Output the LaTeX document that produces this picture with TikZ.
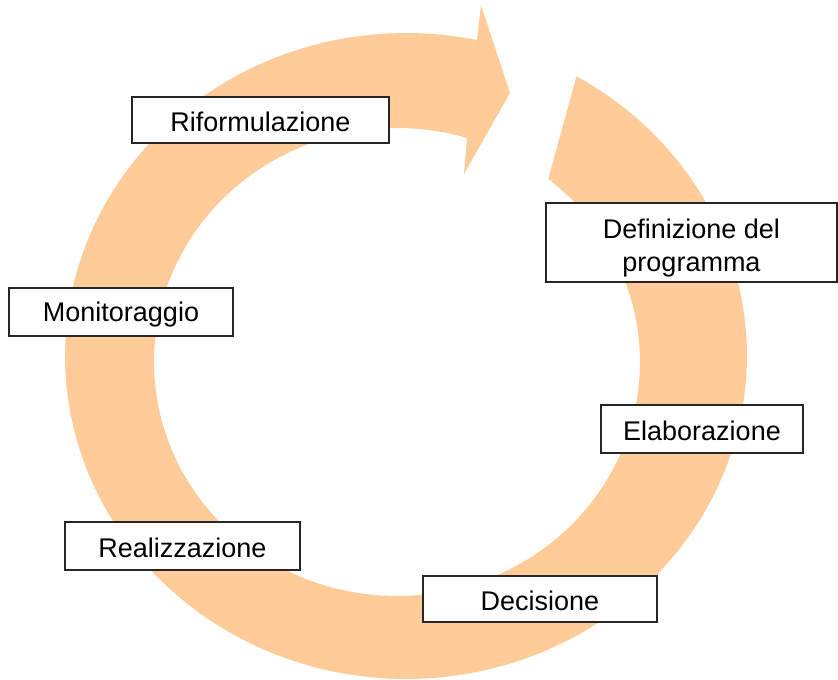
\documentclass[tikz,border=0pt]{standalone}
\usepackage{fontspec}
\setmainfont{Liberation Sans}
\definecolor{peach}{RGB}{255,204,153}
\tikzset{
  stagebox/.style={draw=black!85, line width=1.5pt, fill=white, rectangle, inner sep=0pt,
    align=center, font=\fontsize{27}{33}\selectfont},
  oneline/.style={text height=24pt},
}
\begin{document}
\begin{tikzpicture}[x=1pt,y=-1pt]
\useasboundingbox (0,0) rectangle (838,680);
% circular arrow
\fill[peach]
  plot[domain=60:-282, samples=180] ({406+341*cos(\x)}, {356-323*sin(\x)})
  -- (481,5) -- (510,93) -- (464,174) -- (467,138)
  -- plot[domain=-286.7:51.5, samples=180] ({397+243*cos(\x)}, {362-234*sin(\x)})
  -- cycle;
% stage boxes
\node[stagebox, oneline, minimum width=257pt, minimum height=46pt] (rif) at (260.5,120) {Riformulazione};
\node[stagebox, oneline, minimum width=224pt, minimum height=48pt] (mon) at (121,312) {Monitoraggio};
\node[stagebox, text height=63pt, minimum width=291pt, minimum height=79pt] (def) at (691.5,242.5) {Definizione del\\programma};
\node[stagebox, oneline, minimum width=202pt, minimum height=48pt] (ela) at (702,429) {Elaborazione};
\node[stagebox, oneline, minimum width=234pt, minimum height=46pt] (dec) at (540,599) {Decisione};
\node[stagebox, oneline, minimum width=235pt, minimum height=48pt] (rea) at (182.5,546) {Realizzazione};
\end{tikzpicture}
\end{document}
